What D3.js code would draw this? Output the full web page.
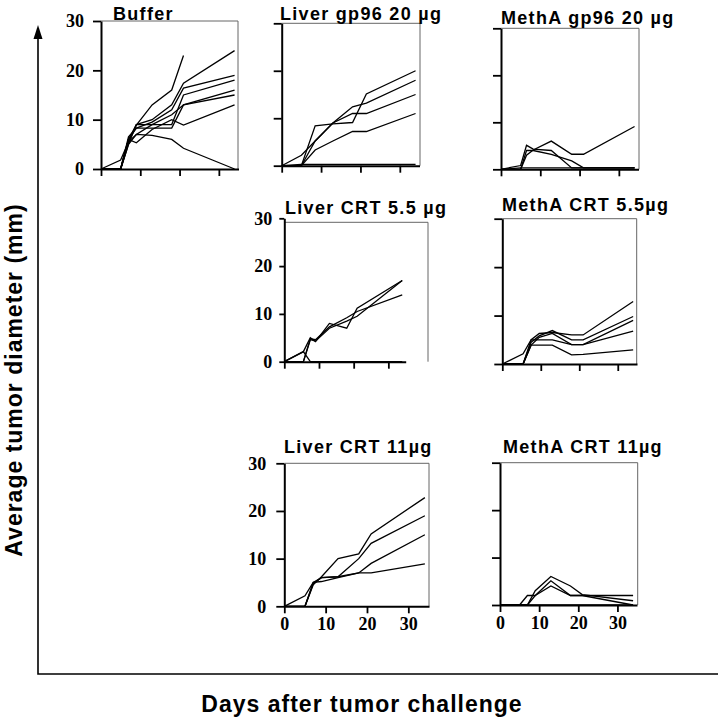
<!DOCTYPE html>
<html><head><meta charset="utf-8">
<script src="https://cdn.jsdelivr.net/npm/d3@7"></script>
<style>body{margin:0;background:#fff}</style>
</head><body><svg id="c" width="718" height="720"></svg>
<script>
// ---- data ----
const panelTitles = ["Buffer", "Liver gp96 20 µg", "MethA gp96 20 µg", "Liver CRT 5.5 µg", "MethA CRT 5.5µg", "Liver CRT 11µg", "MethA CRT 11µg"];
const yTickValues = [0, 10, 20, 30];
const xTickValues = [0, 10, 20, 30];
const xAxisTitle = "Days after tumor challenge";
const yAxisTitle = "Average tumor diameter (mm)";

const bufferDays = [0, 5, 7, 9, 13, 18, 21, 34];
const bufferSeries = [
  [0, 0, 5.5, 8.9, 13, 16, 23, null],
  [0, 0, 6, 9, 10, 13, 17.4, 24],
  [0, 0, 6.5, 8.3, 9.5, 12, 16.4, 19],
  [0, 0, 5, 9, 9, 9, 15, 18],
  [0, 0, 6, 8.3, 8.3, 8.3, 13, 16],
  [0, 0, 5, 7, 9, 11, 13, 15],
  [0, 0, 6, 5.3, 8, 10, 8.9, 13],
  [0, 1.8, 5.5, 7, 6.8, 6, 4.2, 0]
];

const liverGp96Days = [0, 5, 8.5, 13, 18, 21.5, 34];
const liverGp96Series = [
  [0, 0, 8.4, 8.8, 9.1, 15.1, 20],
  [0, 0, 5.2, 9, 12.4, 13.2, 18],
  [0, 2.2, 5.2, 9, 11, 11, 15],
  [0, 0, 3.3, 5.2, 7.2, 7.2, 11],
  [0, 0.3, 0.3, 0.3, 0.3, 0.3, 0.3]
];

const methaGp96Days = [0, 5, 6.5, 8.2, 12.8, 18, 21, 34];
const methaGp96Series = [
  [0, 0, 3, 4.1, 6, 3.2, 3.2, 9.1],
  [0, 0.8, 5.1, 4.3, 4, 0.3, 0.3, 0.3],
  [0, 0, 4, 4, 3.2, 1.8, 0.3, 0.3],
  [0, 0.3, 0.3, 0.3, 0.3, 0.3, 0.3, 0.3]
];

const liverCrt55Days = [0, 5.5, 7.5, 9, 13, 18, 21, 34];
const liverCrt55Series = [
  [0, 2.1, 5, 4.2, 8, 7, 11.2, 17],
  [0, 0, 4.8, 4.6, 7.3, 9.2, 10.5, 14],
  [0, 0, 4.6, 4.3, 7, 8.5, 9.5, 17],
  [0, 2.1, 0, 0, 0, 0, 0, 0]
];

const methaCrt55Days = [0, 5.4, 7.5, 9.6, 13, 18, 21, 34];
const methaCrt55Series = [
  [0, 2.1, 5, 6.3, 6.5, 6, 6, 12.9],
  [0, 0, 4.5, 5.8, 6.9, 5, 5, 9.8],
  [0, 0, 3.9, 5.5, 6.3, 4, 4, 9],
  [0, 0, 5, 5, 5, 4, 4, 6.8],
  [0, 0, 3.9, 3.9, 3.9, 1.9, 2, 2.9]
];

const liverCrt11Days = [0, 5, 7, 9, 13, 18, 21, 34];
const liverCrt11Series = [
  [0, 0, 4.5, 6.2, 10, 11, 15.2, 22.8],
  [0, 0, 5, 6, 6.2, 10, 13.2, 19],
  [0, 2.2, 5, 5.2, 6, 7, 9, 15],
  [0, 0, 4.8, 6, 6.2, 7, 7, 8.9]
];

const methaCrt11Days = [0, 5, 7, 9, 13, 18, 21, 34];
const methaCrt11Series = [
  [0, 0, 2, 2, 5.1, 2, 2, 2],
  [0, 0, 0, 3, 6, 4, 2.2, 0.9],
  [0, 0, 0, 2, 4, 2, 2, 0],
  [0, 0, 0, 0, 0, 0, 0, 0]
];

// ---- layout (pixel geometry of each panel) ----
const layout = [
  {x0:101,   x1:238.5, yb:169,   yt:21,    right:238,   top:21,    tk:8, pad:9,  ylab:true,  xlab:false, tx:113, ty:20},
  {x0:281.7, x1:419.5, yb:165.7, yt:23.3,  right:420,   top:23.3,  tk:8, pad:9,  ylab:false, xlab:false, tx:280, ty:20},
  {x0:501,   x1:638.5, yb:169.3, yt:28.3,  right:639,   top:28.3,  tk:8, pad:9,  ylab:false, xlab:false, tx:501, ty:24},
  {x0:284.3, x1:405.7, yb:361.7, yt:218.3, right:428,   top:222.3, tk:5, pad:7,  ylab:true,  xlab:false, tx:285, ty:214},
  {x0:502.3, x1:637,   yb:364,   yt:218.7, right:636.7, top:218.7, tk:8, pad:9,  ylab:false, xlab:false, tx:502, ty:211},
  {x0:284.3, x1:429,   yb:606.3, yt:463.3, right:429,   top:463.3, tk:8, pad:10, ylab:true,  xlab:true,  tx:284, ty:453},
  {x0:500,   x1:637,   yb:605,   yt:462.7, right:637.7, top:462.7, tk:8, pad:9,  ylab:false, xlab:true,  tx:503, ty:453}
];

const panelData = [
  [bufferDays, bufferSeries],
  [liverGp96Days, liverGp96Series],
  [methaGp96Days, methaGp96Series],
  [liverCrt55Days, liverCrt55Series],
  [methaCrt55Days, methaCrt55Series],
  [liverCrt11Days, liverCrt11Series],
  [methaCrt11Days, methaCrt11Series]
];

const svg = d3.select("#c");
const serif = "'Liberation Serif', 'Times New Roman', serif";
const sans = "'Liberation Sans', Arial, Helvetica, sans-serif";

panelData.forEach(([days, series], i) => {
  const L = layout[i];
  const x = d3.scaleLinear().domain([0, 35]).range([L.x0, L.x1]);
  const y = d3.scaleLinear().domain([0, 30]).range([L.yb, L.yt]);
  const g = svg.append("g");

  // frame (top and right)
  g.append("path")
    .attr("d", `M${L.x0},${L.top}H${L.right}V${L.yb}`)
    .attr("fill", "none").attr("stroke", "#666").attr("stroke-width", 1);

  // data lines
  const line = d3.line()
    .defined(d => d[1] !== null)
    .x(d => x(d[0])).y(d => y(d[1]));
  series.forEach(s => {
    g.append("path")
      .datum(days.map((d, k) => [d, s[k]]))
      .attr("d", line)
      .attr("fill", "none").attr("stroke", "#000").attr("stroke-width", 1.3)
      .attr("stroke-linejoin", "miter");
  });

  // axes
  const ya = d3.axisLeft(y).tickValues(yTickValues).tickSize(L.tk).tickSizeOuter(0).tickPadding(L.pad)
    .tickFormat(L.ylab ? d3.format("d") : () => "");
  const yg = g.append("g").attr("transform", `translate(${L.x0},0)`).call(ya);
  const xa = d3.axisBottom(x).tickValues(xTickValues).tickSize(7).tickSizeOuter(0).tickPadding(4)
    .tickFormat(L.xlab ? d3.format("d") : () => "");
  const xg = g.append("g").attr("transform", `translate(0,${L.yb})`).call(xa);
  [yg, xg].forEach(a => {
    a.select(".domain").attr("stroke", "#000").attr("stroke-width", 2);
    a.selectAll(".tick line").attr("stroke", "#000").attr("stroke-width", 1.8);
    a.selectAll(".tick text").attr("fill", "#000")
      .style("font-family", serif).style("font-weight", "bold").style("font-size", "18px");
  });

  g.append("text")
    .attr("x", L.tx).attr("y", L.ty)
    .style("font-family", sans).style("font-weight", "bold").style("font-size", "18px")
    .style("letter-spacing", "1.3px")
    .text(panelTitles[i]);
});

// overall axes
svg.append("path").attr("d", "M38,34V674H718").attr("fill", "none")
  .attr("stroke", "#000").attr("stroke-width", 1.6);
svg.append("path").attr("d", "M38,25L33.5,39H42.5Z").attr("fill", "#000");

svg.append("text")
  .attr("transform", "translate(22,380) rotate(-90)")
  .attr("text-anchor", "middle")
  .style("font-family", sans).style("font-weight", "bold").style("font-size", "23px")
  .style("letter-spacing", "1px")
  .text(yAxisTitle);

svg.append("text")
  .attr("x", 362).attr("y", 712)
  .attr("text-anchor", "middle")
  .style("font-family", sans).style("font-weight", "bold").style("font-size", "23px")
  .style("letter-spacing", "1px")
  .text(xAxisTitle);
</script>
</body></html>
